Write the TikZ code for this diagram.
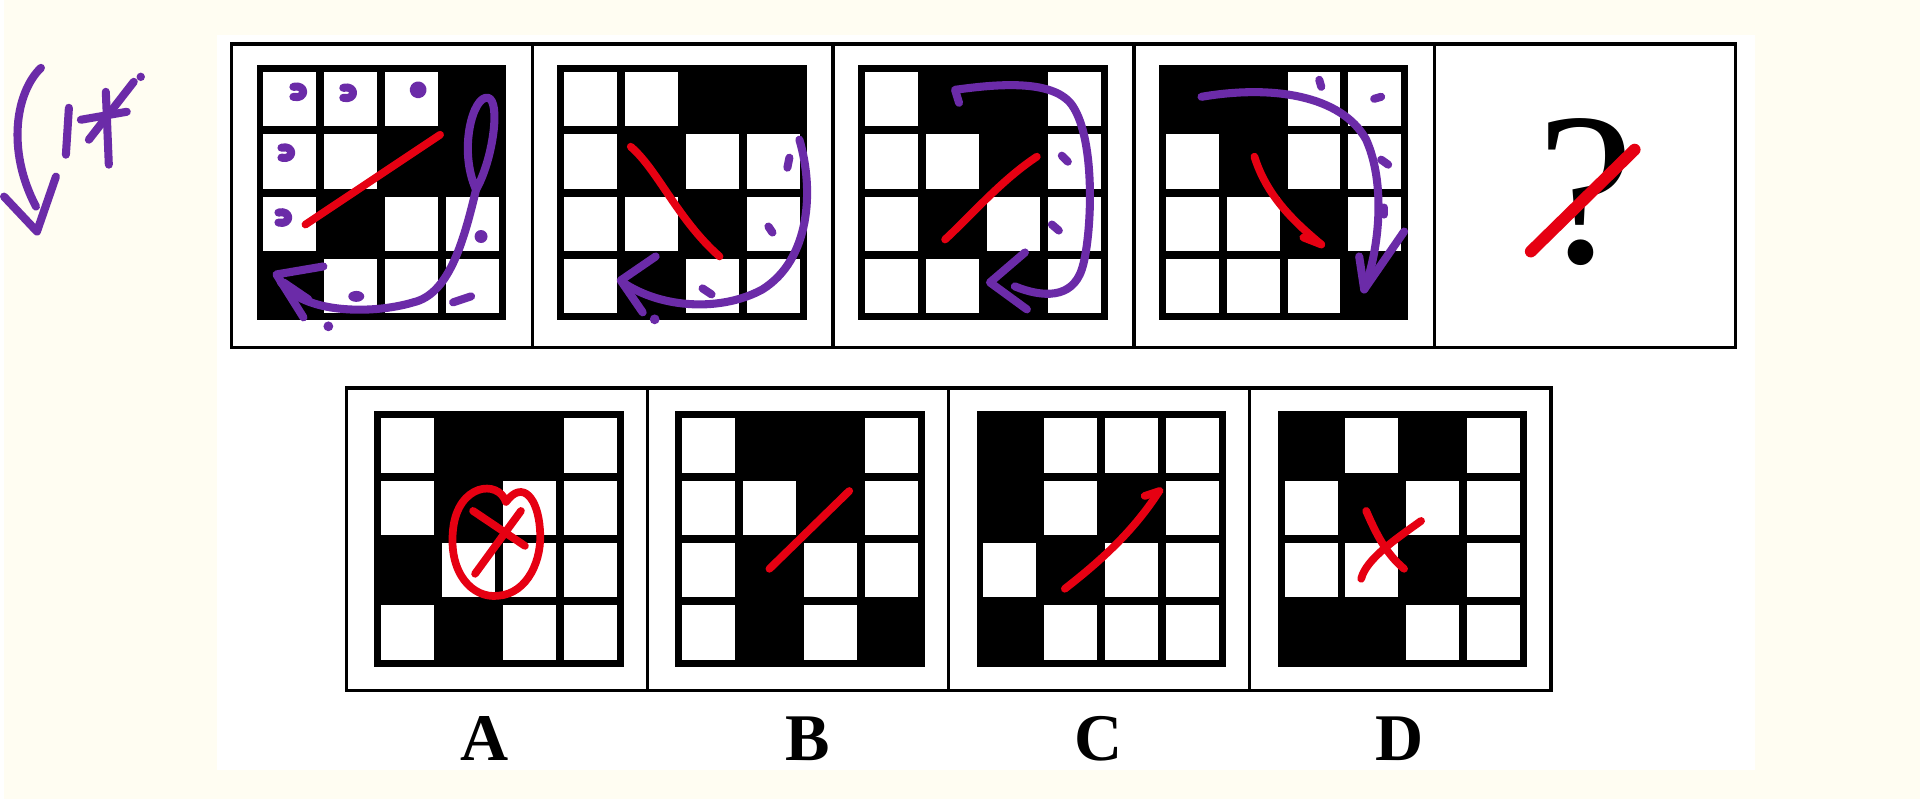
\documentclass[tikz,border=0pt]{standalone}
\usepackage{fontspec}
\setmainfont{Liberation Serif}
\definecolor{paper}{HTML}{FFFDF2}
\definecolor{penred}{HTML}{E60012}
\definecolor{penpurple}{HTML}{6B2BA8}
\tikzset{
  panel/.style={draw=black, line width=1pt},
  redpen/.style={draw=penred, line width=2.2pt, line cap=round, line join=round},
  purplepen/.style={draw=penpurple, line width=2.3pt, line cap=round, line join=round},
  optlabel/.style={font=\fontsize{19}{19}\selectfont\bfseries, inner sep=0pt}
}
% 4x4 grid: #1,#2 top left corner, #3 black cells as row/col
\newcommand{\cellgrid}[3]{%
  \fill[black] (#1,#2) rectangle ++(250,256);
  \foreach \r in {0,...,3}
    \foreach \c in {0,...,3}
      \fill[white] ({#1+7+61*\c},{#2+7+62.5*\r}) rectangle ++(53,54.5);
  \foreach \r/\c in {#3}
    \fill[black] ({#1+7+61*(\c-1)},{#2+7+62.5*(\r-1)}) rectangle ++(53,54.5);
}
\begin{document}
\begin{tikzpicture}[x=0.1mm, y=-0.1mm]
    % paper and sheet
    \fill[paper] (0,0) rectangle (1920,801);
    \fill[white] (213,35) rectangle (1755,772);
    % question row
    \draw[panel] (228,44) rectangle (1735,348);
    \foreach \i in {1,...,4}
      \draw[panel] ({228+301.4*\i},44) -- ({228+301.4*\i},348);
    \cellgrid{253}{65}{1/4,2/3,2/4,3/2,4/1}
    \cellgrid{554.4}{65}{1/3,1/4,2/2,3/3,4/2}
    \cellgrid{855.8}{65}{1/2,1/3,2/3,3/2,4/3}
    \cellgrid{1157.2}{65}{1/1,1/2,2/2,3/3,4/4}
    \node[font=\fontsize{62}{62}\selectfont, inner sep=0pt] (qmark) at (1585,192) {?};
    % answer row
    \draw[panel] (343,389) rectangle (1550,692);
    \foreach \j in {1,...,3}
      \draw[panel] ({343+301.75*\j},389) -- ({343+301.75*\j},692);
    \cellgrid{371}{412}{1/2,1/3,2/2,3/1,4/2}
    \cellgrid{672.75}{412}{1/2,1/3,2/3,3/2,4/2,4/4}
    \cellgrid{974.5}{412}{1/1,2/1,2/3,3/2,4/1}
    \cellgrid{1276.25}{412}{1/1,1/3,2/2,3/3,4/1,4/2}
    \node[optlabel] (labA) at (482,740) {A};
    \node[optlabel] (labB) at (805,740) {B};
    \node[optlabel] (labC) at (1097,740) {C};
    \node[optlabel] (labD) at (1398,740) {D};
    % handwriting, left margin
    \draw[purplepen] (37,68) .. controls (12,92) and (2,150) .. (32,207);
    \draw[purplepen] (0,197) -- (33,232) -- (52,177);
    \draw[purplepen] (65,108) -- (62,155);
    \draw[purplepen] (77,120) -- (123,112);
    \draw[purplepen] (102,92) -- (105,165);
    \draw[purplepen] (85,140) -- (130,82);
    \fill[penpurple] (137,77) circle (1.2pt);
    % handwriting, panel 1
    \draw[redpen] (437,135) -- (302,225);
    \foreach \px/\py in {295/92,345/93,283/153,280/218}
      \draw[purplepen] (\px-5,\py-5) .. controls (\px+8,\py-8) and (\px+8,\py+8) .. (\px-5,\py+5);
    \draw[purplepen] (415,90) circle (4.5);
    \fill[penpurple] (478,237) circle (6.5);
    \fill[penpurple] (353,297) ellipse (8 and 5.5);
    \draw[purplepen] (450,303) -- (468,297);
    \draw[purplepen] (473,190) .. controls (455,150) and (470,95) .. (485,98)
      .. controls (498,101) and (490,160) .. (473,190);
    \draw[purplepen] (473,190) .. controls (460,245) and (445,295) .. (410,303)
      .. controls (370,315) and (300,315) .. (277,282);
    \draw[purplepen] (320,267) -- (273,275) -- (300,318);
    \draw[purplepen] (280,283) -- (305,300);
    \fill[penpurple] (325,327) circle (1.4pt);
    % handwriting, panel 2
    \draw[redpen] (628,147) .. controls (655,170) and (675,220) .. (717,257);
    \draw[purplepen] (797,140) .. controls (812,190) and (808,260) .. (760,290)
      .. controls (720,312) and (660,310) .. (620,283);
    \draw[purplepen] (653,257) -- (618,281) -- (640,313);
    \draw[purplepen] (785,168) -- (787,158);
    \draw[purplepen] (766,227) -- (770,233);
    \draw[purplepen] (700,289) -- (709,295);
    \fill[penpurple] (652,320) circle (1.4pt);
    % handwriting, panel 3
    \draw[redpen] (943,240) .. controls (970,215) and (1000,180) .. (1035,157);
    \draw[purplepen] (957,103) -- (953,90) .. controls (990,85) and (1050,78) .. (1070,105)
      .. controls (1095,140) and (1090,240) .. (1080,270)
      .. controls (1070,300) and (1040,298) .. (1013,287);
    \draw[purplepen] (1023,253) -- (988,283) -- (1025,310);
    \draw[purplepen] (1060,156) -- (1066,162);
    \draw[purplepen] (1050,225) -- (1057,231);
    % handwriting, panel 4
    \draw[redpen] (1253,157) .. controls (1265,195) and (1290,220) .. (1320,245);
    \draw[redpen] (1302,238) -- (1320,245);
    \draw[purplepen] (1200,97) .. controls (1270,85) and (1340,95) .. (1365,140)
      .. controls (1385,185) and (1378,250) .. (1363,290);
    \draw[purplepen] (1403,232) -- (1363,290) -- (1358,257);
    \draw[purplepen] (1318,80) -- (1320,87);
    \draw[purplepen] (1373,99) -- (1380,97);
    \draw[purplepen] (1380,160) -- (1387,165);
    \draw[purplepen] (1383,208) -- (1383,215);
    % handwriting, panel 5
    \draw[redpen, line width=3.4pt] (1530,252) -- (1634,150);
    % handwriting, options
    \draw[redpen] (503,503) .. controls (495,480) and (455,485) .. (450,530)
      .. controls (445,575) and (470,600) .. (495,597)
      .. controls (525,595) and (540,560) .. (537,530)
      .. controls (535,500) and (520,480) .. (503,503);
    \draw[redpen] (470,512) -- (522,547);
    \draw[redpen] (518,512) -- (472,575);
    \draw[redpen] (767,570) -- (847,492);
    \draw[redpen] (1063,590) .. controls (1095,565) and (1130,535) .. (1157,493);
    \draw[redpen] (1143,497) -- (1158,492);
    \draw[redpen] (1365,512) .. controls (1375,535) and (1385,555) .. (1403,570);
    \draw[redpen] (1420,522) .. controls (1395,540) and (1365,560) .. (1360,580);
\end{tikzpicture}
\end{document}
